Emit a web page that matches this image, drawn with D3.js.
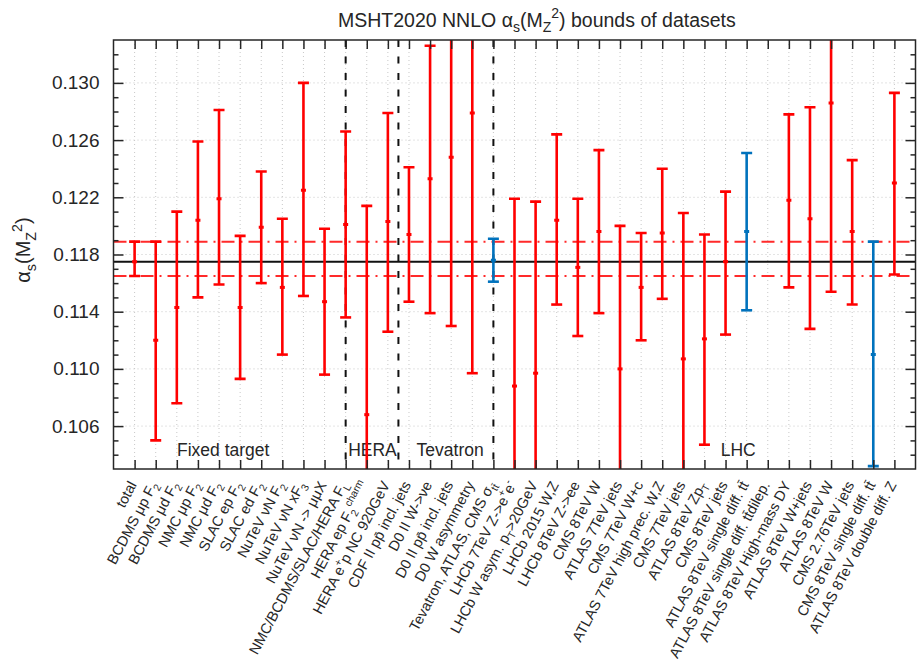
<!DOCTYPE html>
<html>
<head>
<meta charset="utf-8">
<script src="https://cdn.jsdelivr.net/npm/d3@7"></script>
<style>
  body { margin: 0; background: #fff; }
  svg { font-family: "Liberation Sans", Arial, Helvetica, sans-serif; }
</style>
</head>
<body>
<svg id="chart" width="920" height="660"></svg>
<script>
// Datasets (x categories); _{..} marks a subscript, ^{..} a superscript
const datasets = [
  "total",
  "BCDMS μp F_{2}",
  "BCDMS μd F_{2}",
  "NMC μp F_{2}",
  "NMC μd F_{2}",
  "SLAC ep F_{2}",
  "SLAC ed F_{2}",
  "NuTeV νN F_{2}",
  "NuTeV νN xF_{3}",
  "NuTeV νN -> μμX",
  "NMC/BCDMS/SLAC/HERA F_{L}",
  "HERA ep F_{2}^{charm}",
  "HERA e^{+}p NC 920GeV",
  "CDF II pp\u0304 incl. jets",
  "D0 II W->νe",
  "D0 II pp\u0304 incl. jets",
  "D0 W asymmetry",
  "Tevatron, ATLAS, CMS σ_{tt\u0304}",
  "LHCb 7TeV Z->e^{+}e^{-}",
  "LHCb W asym. p_{T}>20GeV",
  "LHCb 2015 W,Z",
  "LHCb 8TeV Z->ee",
  "CMS 8TeV W",
  "ATLAS 7TeV jets",
  "CMS 7TeV W+c",
  "ATLAS 7TeV high prec. W,Z",
  "CMS 7TeV jets",
  "ATLAS 8TeV Zp_{T}",
  "CMS 8TeV jets",
  "ATLAS 8TeV single diff. tt\u0304",
  "ATLAS 8TeV single diff. tt\u0304dilep.",
  "ATLAS 8TeV High-mass DY",
  "ATLAS 8TeV W+jets",
  "ATLAS 8TeV W",
  "CMS 2.76TeV jets",
  "CMS 8TeV single diff. tt\u0304",
  "ATLAS 8TeV double diff. Z"
];

// Best-fit alpha_s and its lower / upper bound for each dataset (null = no bound shown)
const central = [
  0.1175, 0.1120, 0.1143, 0.1204, 0.1219, 0.1143, 0.1199, 0.1157, 0.1225, 0.1147,
  0.1201, 0.1068, 0.1203, 0.1194, 0.1233, 0.1248, 0.1279, 0.1176, 0.1088, 0.1097,
  0.1204, 0.1171, 0.1196, 0.1100, 0.1157, 0.1195, 0.1107, 0.1121, 0.1175, 0.1196,
  null,   0.1218, 0.1205, 0.1286, 0.1196, 0.1110, 0.1230
];
const lower = [
  0.1165, 0.1050, 0.1076, 0.1150, 0.1159, 0.1093, 0.1160, 0.1110, 0.1151, 0.1096,
  0.1136, 0.0922, 0.1126, 0.1147, 0.1139, 0.1130, 0.1097, 0.1161, 0.0957, 0.0977,
  0.1145, 0.1123, 0.1139, 0.1000, 0.1120, 0.1149, 0.1005, 0.1047, 0.1124, 0.1141,
  null,   0.1157, 0.1128, 0.1154, 0.1145, 0.1032, 0.1166
];
const upper = [
  0.1189, 0.1189, 0.1210, 0.1259, 0.1281, 0.1193, 0.1238, 0.1205, 0.1300, 0.1198,
  0.1266, 0.1214, 0.1279, 0.1241, 0.1326, 0.1366, 0.1461, 0.1191, 0.1219, 0.1217,
  0.1264, 0.1219, 0.1253, 0.1200, 0.1195, 0.1240, 0.1209, 0.1194, 0.1224, 0.1251,
  null,   0.1278, 0.1283, 0.1418, 0.1246, 0.1189, 0.1293
];

// Datasets drawn in blue
const highlighted = [
  "Tevatron, ATLAS, CMS σ_{tt\u0304}",
  "ATLAS 8TeV single diff. tt\u0304",
  "CMS 8TeV single diff. tt\u0304"
];

// Experiment groups: separators and label centres in category units
const dividers = [11, 13.5, 18];
const groupNames = ["Fixed target", "HERA", "Tevatron", "LHC"];
const groupCentres = [5.2, 12.27, 15.95, 29.6];

const yMajorTicks = [0.106, 0.110, 0.114, 0.118, 0.122, 0.126, 0.130];
const yDomain = [0.103, 0.133];

const titleText = "MSHT2020 NNLO α_{s}(M_{Z}^{2}) bounds of datasets";
const yTitle = "α_{s}(M_{Z}^{2})";

// ---------------------------------------------------------------------------
const svg = d3.select("#chart");
const plot = { left: 113.5, right: 915.5, top: 40, bottom: 469 };
const RED = "#ff0000", BLUE = "#0072bd", INK = "#262626";

const x = d3.scaleLinear().domain([0, datasets.length + 1]).range([plot.left, plot.right]);
const y = d3.scaleLinear().domain(yDomain).range([plot.bottom, plot.top]);

// Write a string with _{..} / ^{..} markup as tspans
function richText(sel, str, fs, baseDy) {
  const re = /([_^])\{([^}]*)\}/g;
  const segs = [];
  let last = 0, m;
  while ((m = re.exec(str))) {
    if (m.index > last) segs.push({ t: str.slice(last, m.index), k: 0 });
    segs.push({ t: m[2], k: m[1] === "_" ? 1 : -1 });
    last = re.lastIndex;
  }
  if (last < str.length) segs.push({ t: str.slice(last), k: 0 });
  let cur = -(baseDy || 0);
  segs.forEach(s => {
    const shift = s.k === 1 ? 0.28 * fs : s.k === -1 ? -0.42 * fs : 0;
    sel.append("tspan")
      .attr("dy", shift - cur)
      .attr("font-size", s.k ? fs * 0.72 : fs)
      .text(s.t);
    cur = shift;
  });
}

svg.append("defs").append("clipPath").attr("id", "plotClip")
  .append("rect")
  .attr("x", plot.left).attr("y", plot.top)
  .attr("width", plot.right - plot.left).attr("height", plot.bottom - plot.top);

// Grid
const grid = svg.append("g").attr("stroke", "#c8c8c8").attr("stroke-width", 1)
  .attr("stroke-dasharray", "1,3");
grid.selectAll("line.v").data(d3.range(1, datasets.length + 1)).join("line")
  .attr("x1", d => x(d)).attr("x2", d => x(d))
  .attr("y1", plot.top).attr("y2", plot.bottom);
grid.selectAll("line.h").data(yMajorTicks).join("line")
  .attr("x1", plot.left).attr("x2", plot.right)
  .attr("y1", d => y(d)).attr("y2", d => y(d));

// Group separators
svg.append("g").selectAll("line").data(dividers).join("line")
  .attr("x1", d => x(d)).attr("x2", d => x(d))
  .attr("y1", plot.top).attr("y2", plot.bottom)
  .attr("stroke", "#111").attr("stroke-width", 2)
  .attr("stroke-dasharray", "7,9.5");

// Group labels
svg.append("g").selectAll("text").data(groupNames).join("text")
  .attr("x", (d, i) => x(groupCentres[i]))
  .attr("y", plot.bottom - 13.5)
  .attr("text-anchor", "middle")
  .attr("font-size", 17.5).attr("fill", INK)
  .text(d => d);

// Total fit: central value and band edges
const refLines = svg.append("g").attr("clip-path", "url(#plotClip)");
refLines.append("line")
  .attr("x1", plot.left).attr("x2", plot.right)
  .attr("y1", y(central[0])).attr("y2", y(central[0]))
  .attr("stroke", "#111").attr("stroke-width", 2);
refLines.selectAll("line.band").data([lower[0], upper[0]]).join("line")
  .attr("class", "band")
  .attr("x1", plot.left).attr("x2", plot.right)
  .attr("y1", d => y(d)).attr("y2", d => y(d))
  .attr("stroke", "#ff2a2a").attr("stroke-width", 2)
  .attr("stroke-dasharray", "13,6,2,6");

// Error bars
const rows = datasets.map((name, i) => ({
  i: i + 1, name, c: central[i], lo: lower[i], hi: upper[i],
  col: highlighted.includes(name) ? BLUE : RED
})).filter(d => d.c !== null);

const bars = svg.append("g").attr("clip-path", "url(#plotClip)")
  .selectAll("g").data(rows).join("g")
  .attr("stroke", d => d.col).attr("stroke-width", 2.6).attr("fill", "none");
const capW = 5.5;
bars.append("line")
  .attr("x1", d => x(d.i)).attr("x2", d => x(d.i))
  .attr("y1", d => y(d.lo)).attr("y2", d => y(d.hi));
bars.append("line")
  .attr("x1", d => x(d.i) - capW).attr("x2", d => x(d.i) + capW)
  .attr("y1", d => y(d.lo)).attr("y2", d => y(d.lo));
bars.append("line")
  .attr("x1", d => x(d.i) - capW).attr("x2", d => x(d.i) + capW)
  .attr("y1", d => y(d.hi)).attr("y2", d => y(d.hi));
bars.append("line")
  .attr("x1", d => x(d.i) - 2.5).attr("x2", d => x(d.i) + 2.5)
  .attr("y1", d => y(d.c)).attr("y2", d => y(d.c))
  .attr("stroke-width", 3);

// Axes (ticks pointing inwards on all four sides)
const catTicks = d3.range(1, datasets.length + 1);
const minorTicks = d3.range(104, 133).map(v => v / 1000)
  .filter(v => !yMajorTicks.some(t => Math.abs(t - v) < 1e-9));

function styleAxis(g) {
  g.select(".domain").remove();
  g.selectAll(".tick line").attr("stroke", INK).attr("stroke-width", 1.5);
  g.selectAll(".tick text").attr("fill", INK);
}

svg.append("g").attr("transform", `translate(0,${plot.bottom})`)
  .call(d3.axisBottom(x).tickValues(catTicks).tickSize(-9).tickFormat(""))
  .call(styleAxis);
svg.append("g").attr("transform", `translate(0,${plot.top})`)
  .call(d3.axisTop(x).tickValues(catTicks).tickSize(-9).tickFormat(""))
  .call(styleAxis);
svg.append("g").attr("transform", `translate(${plot.left},0)`)
  .call(d3.axisLeft(y).tickValues(minorTicks).tickSize(-5).tickFormat(""))
  .call(styleAxis);
svg.append("g").attr("transform", `translate(${plot.right},0)`)
  .call(d3.axisRight(y).tickValues(minorTicks).tickSize(-5).tickFormat(""))
  .call(styleAxis);
svg.append("g").attr("transform", `translate(${plot.right},0)`)
  .call(d3.axisRight(y).tickValues(yMajorTicks).tickSize(-10).tickFormat(""))
  .call(styleAxis);
svg.append("g").attr("transform", `translate(${plot.left},0)`)
  .call(d3.axisLeft(y).tickValues(yMajorTicks).tickSize(-10).tickPadding(14)
    .tickFormat(d3.format(".3f")))
  .call(styleAxis)
  .call(g => g.selectAll(".tick text").attr("font-size", 19).attr("font-family", null));

// Frame
svg.append("rect")
  .attr("x", plot.left).attr("y", plot.top)
  .attr("width", plot.right - plot.left).attr("height", plot.bottom - plot.top)
  .attr("fill", "none").attr("stroke", INK).attr("stroke-width", 1.5);

// Rotated category labels
const labelSize = 14.5;
const xl = svg.append("g").attr("fill", INK);
datasets.forEach((name, i) => {
  const t = xl.append("text")
    .attr("text-anchor", "end")
    .attr("font-size", labelSize)
    .attr("transform", `translate(${x(i + 1) + 7},${plot.bottom + 18}) rotate(-62)`);
  richText(t, name, labelSize, -0.35 * labelSize);
});

// Title
const tt = svg.append("text")
  .attr("x", 338).attr("y", 26.5)
  .attr("text-anchor", "start").attr("fill", INK).attr("font-size", 19.5);
richText(tt, titleText, 19.5, 0);

// Y-axis title
const yt = svg.append("text")
  .attr("transform", `translate(30,250) rotate(-90)`)
  .attr("text-anchor", "middle").attr("fill", INK).attr("font-size", 20);
richText(yt, yTitle, 20, 0);
</script>
</body>
</html>
